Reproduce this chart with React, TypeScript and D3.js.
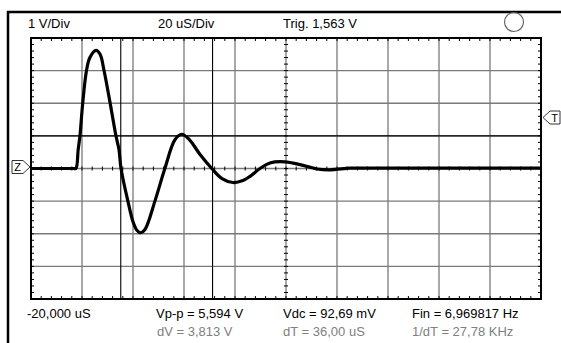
import React from "react";
import * as d3 from "d3";

// Captured trace: time in microseconds, amplitude in volts
const timeUs = [-20, -19, -3.4, -2.4, -1.5, -0.8, 0.3, 1.8, 3.1, 5.5, 7.1, 8.6, 11.0, 13.3, 14.5, 15.3, 18.0, 20.0, 21.6, 23.0, 24.7, 28.6, 32.5, 36.5, 39.2, 42.0, 46.3, 50.9, 54.9, 59.2, 63.1, 65.9, 69.8, 73.7, 79.6, 85.5, 92.2, 97.3, 105.1, 110, 178, 180];
const volts = [0, 0, 0, 0, 0.58, 1.01, 2.02, 3.02, 3.40, 3.62, 3.50, 3.02, 2.02, 1.01, 0.58, 0, -1.0, -1.63, -1.90, -1.97, -1.87, -1.0, 0, 0.89, 1.05, 0.89, 0.43, 0, -0.31, -0.43, -0.37, -0.24, 0, 0.17, 0.205, 0.12, -0.015, -0.04, 0.01, 0.01, 0.01, 0.01];

// Screen settings
const timeStart = -20;
const usPerDiv = 20;
const hDivs = 10;
const voltsPerDiv = 1;
const vDivs = 8;
const triggerLevel = 1.563;
const cursorTimes = [15.2, 51.2];
const cursorVolts = [1.0, 4.813];

const headerLabels = ["1 V/Div", "20 uS/Div", "Trig. 1,563 V"];
const measureLabels = ["-20,000 uS", "Vp-p = 5,594 V", "Vdc = 92,69 mV", "Fin = 6,969817 Hz"];
const cursorLabels = ["dV = 3,813 V", "dT = 36,00 uS", "1/dT = 27,78 KHz"];

const W = 561;
const H = 343;
const left = 31;
const right = 541;
const top = 38;
const bottom = 299;

export default function App() {
  const x = d3.scaleLinear().domain([timeStart, timeStart + usPerDiv * hDivs]).range([left, right]);
  const yHalf = (voltsPerDiv * vDivs) / 2;
  const y = d3.scaleLinear().domain([-yHalf, yHalf]).range([bottom, top]);

  const vGrid = d3.range(1, hDivs).map((i) => timeStart + i * usPerDiv);
  const hGrid = d3.range(1, vDivs).map((i) => -yHalf + i * voltsPerDiv);
  const tMid = timeStart + (usPerDiv * hDivs) / 2;

  const xMinor = d3.range(0, hDivs * 5 + 1).map((i) => timeStart + (i * usPerDiv) / 5);
  const yMinor = d3.range(0, vDivs * 5 + 1).map((i) => -yHalf + (i * voltsPerDiv) / 5);

  const line = d3
    .line<number>()
    .x((_, i) => x(timeUs[i]))
    .y((d) => y(d))
    .curve(d3.curveCatmullRom.alpha(0.5));

  const font = "'Liberation Sans', Arial, sans-serif";
  const headerX = [28, 158, 283];
  const row1X = [27, 156, 283, 412];
  const row2X = [157, 283, 412];

  const gy = y(0) - 1.5;
  const ty = y(triggerLevel);

  return (
    <svg
      width={W}
      height={H}
      style={{ position: "absolute", left: 0, top: 0, background: "#fff" }}
      fontFamily={font}
    >
      <defs>
        <clipPath id="screen">
          <rect x={left} y={top} width={right - left} height={bottom - top} />
        </clipPath>
      </defs>
      <rect width={W} height={H} fill="#fff" />

      {/* outer frame */}
      <line x1={7} x2={W} y1={12} y2={12} stroke="#000" strokeWidth={2.5} />
      <line x1={8} x2={8} y1={11} y2={H} stroke="#000" strokeWidth={2.5} />

      {/* header */}
      {headerLabels.map((t, i) => (
        <text key={t} x={headerX[i]} y={27.5} fontSize={13} fill="#000">
          {t}
        </text>
      ))}
      <circle cx={514} cy={22} r={9.5} fill="none" stroke="#666" strokeWidth={1.2} />

      {/* grid */}
      {vGrid.map((t) => (
        <line key={"v" + t} x1={x(t)} x2={x(t)} y1={top} y2={bottom} stroke="#7a7a7a" strokeWidth={1.3} />
      ))}
      {hGrid.map((v) => (
        <line key={"h" + v} x1={left} x2={right} y1={y(v)} y2={y(v)} stroke="#7a7a7a" strokeWidth={1.3} />
      ))}

      {/* minor ticks on border and center axes */}
      {xMinor.map((t, i) => (
        <g key={"xm" + i} stroke="#000" strokeWidth={1}>
          <line x1={x(t)} x2={x(t)} y1={top} y2={top + 3} />
          <line x1={x(t)} x2={x(t)} y1={bottom} y2={bottom - 3} />
          <line x1={x(t)} x2={x(t)} y1={y(0) - 2} y2={y(0) + 2} />
        </g>
      ))}
      {yMinor.map((v, i) => (
        <g key={"ym" + i} stroke="#000" strokeWidth={1}>
          <line x1={left} x2={left + 3} y1={y(v)} y2={y(v)} />
          <line x1={right} x2={right - 3} y1={y(v)} y2={y(v)} />
          <line x1={x(tMid) - 2} x2={x(tMid) + 2} y1={y(v)} y2={y(v)} />
        </g>
      ))}

      {/* cursors */}
      <g clipPath="url(#screen)" stroke="#000" strokeWidth={1.1}>
        {cursorTimes.map((t) => (
          <line key={"ct" + t} x1={x(t)} x2={x(t)} y1={top} y2={bottom} />
        ))}
        {cursorVolts.map((v) => (
          <line key={"cv" + v} x1={left} x2={right} y1={y(v)} y2={y(v)} />
        ))}
      </g>

      {/* trace */}
      <path
        d={line(volts) || ""}
        fill="none"
        stroke="#000"
        strokeWidth={3.2}
        strokeLinejoin="round"
        strokeLinecap="round"
        clipPath="url(#screen)"
      />

      {/* screen border */}
      <rect x={left} y={top} width={right - left} height={bottom - top} fill="none" stroke="#000" strokeWidth={2} />

      {/* ground marker */}
      <path
        d={`M12,${gy - 6.5} H23 L30,${gy} L23,${gy + 6.5} H12 Z`}
        fill="#fff"
        stroke="#333"
        strokeWidth={1}
      />
      <text x={17.5} y={gy + 4} fontSize={11} textAnchor="middle" fill="#000">
        Z
      </text>

      {/* trigger marker */}
      <path
        d={`M560,${ty - 6.5} H550 L543,${ty} L550,${ty + 6.5} H560 Z`}
        fill="#fff"
        stroke="#333"
        strokeWidth={1}
      />
      <text x={554.5} y={ty + 4} fontSize={11} textAnchor="middle" fill="#000">
        T
      </text>

      {/* measurements */}
      {measureLabels.map((t, i) => (
        <text key={t} x={row1X[i]} y={317.5} fontSize={13} fill="#000">
          {t}
        </text>
      ))}
      {cursorLabels.map((t, i) => (
        <text key={t} x={row2X[i]} y={335.5} fontSize={13} fill="#808080">
          {t}
        </text>
      ))}
    </svg>
  );
}
